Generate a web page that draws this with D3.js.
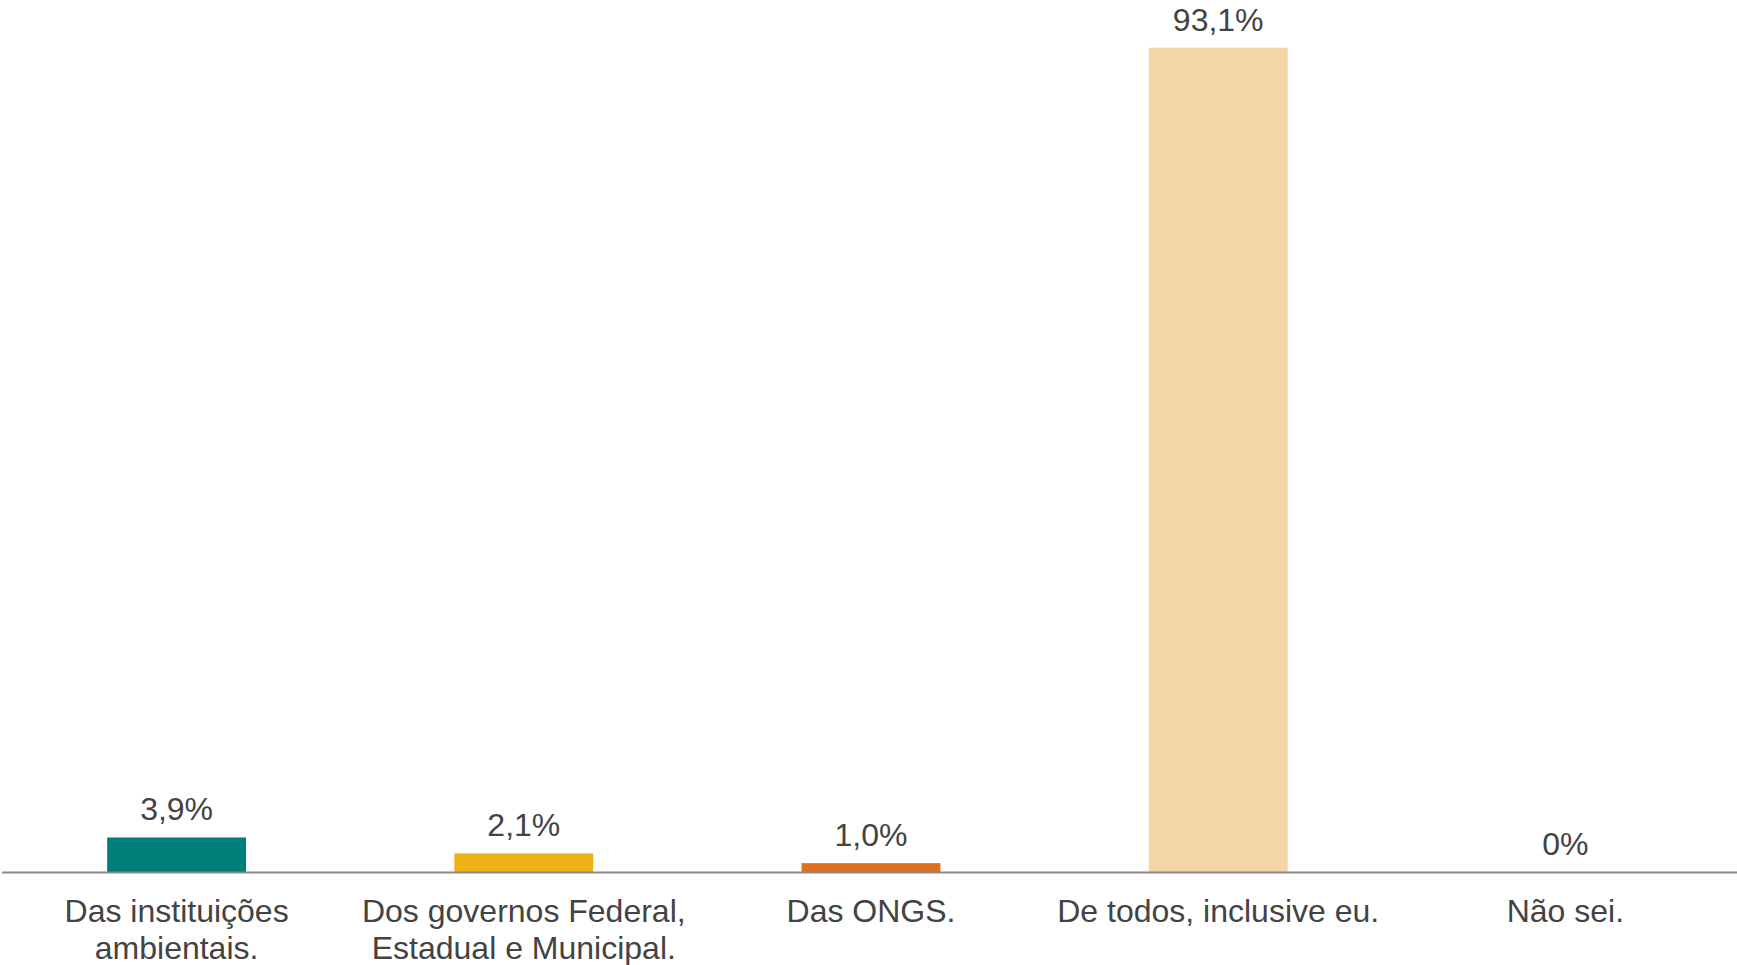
<!DOCTYPE html>
<html lang="pt">
<head>
<meta charset="UTF-8">
<title>Responsabilidade</title>
<style>
  html, body { margin: 0; padding: 0; background: #fff; }
  #chart { width: 1737px; height: 965px; }
  text { font-family: Arial, "Liberation Sans", sans-serif; fill: #434343; }
</style>
</head>
<body>
<div id="chart"></div>
<script src="https://d3js.org/d3.v7.min.js"></script>
<script>
// dados
const categories = [
  "Das instituições\nambientais.",
  "Dos governos Federal,\nEstadual e Municipal.",
  "Das ONGS.",
  "De todos, inclusive eu.",
  "Não sei."
];
const values = [3.9, 2.1, 1.0, 93.1, 0];
const valueLabels = ["3,9%", "2,1%", "1,0%", "93,1%", "0%"];
const colors = ["#007e79", "#edb015", "#e07020", "#f3d5a8", "#999999"];

const width = 1737, height = 965;
const baseY = 872;

const svg = d3.select("#chart").append("svg")
  .attr("width", width)
  .attr("height", height);

const x = d3.scaleBand()
  .domain(categories)
  .range([3, 1739])
  .paddingInner(0.6)
  .paddingOuter(0.3);

const y = d3.scaleLinear()
  .domain([0, 93.1])
  .range([baseY, 47.7]);

// barras
svg.selectAll("rect.bar")
  .data(values)
  .enter()
  .append("rect")
  .attr("class", "bar")
  .attr("x", (d, i) => x(categories[i]))
  .attr("y", d => y(d))
  .attr("width", x.bandwidth())
  .attr("height", d => baseY - y(d))
  .attr("fill", (d, i) => colors[i]);

// eixo
svg.append("line")
  .attr("x1", 2).attr("x2", width)
  .attr("y1", baseY + 0.5).attr("y2", baseY + 0.5)
  .attr("stroke", "#8a8a8a")
  .attr("stroke-width", 2);

// rótulos de valor
svg.selectAll("text.val")
  .data(values)
  .enter()
  .append("text")
  .attr("class", "val")
  .attr("x", (d, i) => x(categories[i]) + x.bandwidth() / 2)
  .attr("y", d => y(d) - 17)
  .attr("text-anchor", "middle")
  .attr("font-size", 32)
  .text((d, i) => valueLabels[i]);

// rótulos das categorias
const cat = svg.selectAll("text.cat")
  .data(categories)
  .enter()
  .append("text")
  .attr("class", "cat")
  .attr("text-anchor", "middle")
  .attr("font-size", 32)
  .attr("x", d => x(d) + x.bandwidth() / 2)
  .attr("y", baseY + 50);

cat.selectAll("tspan")
  .data(d => d.split("\n").map(t => ({ t, c: d })))
  .enter()
  .append("tspan")
  .attr("x", d => x(d.c) + x.bandwidth() / 2)
  .attr("dy", (d, i) => i === 0 ? 0 : 37)
  .text(d => d.t);
</script>
</body>
</html>
